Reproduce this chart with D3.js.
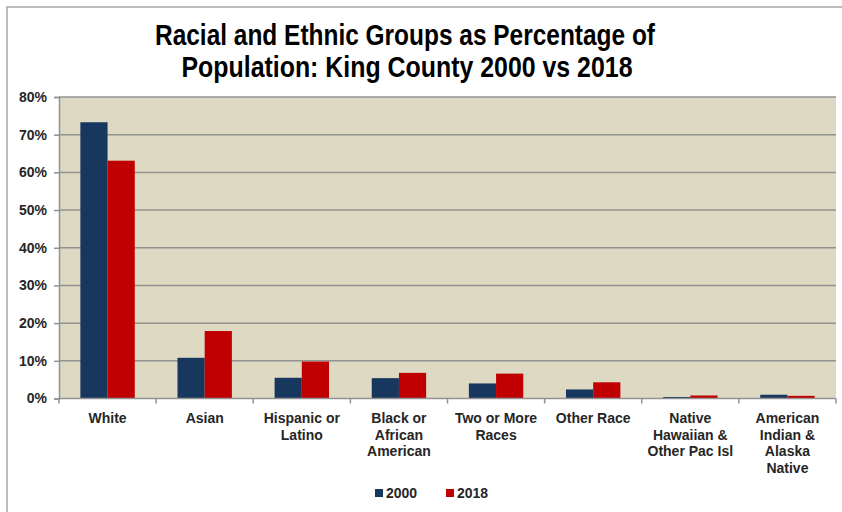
<!DOCTYPE html>
<html><head><meta charset="utf-8">
<script src="https://cdn.jsdelivr.net/npm/d3@7/dist/d3.min.js"></script>
<style>body{margin:0;background:#fff;} svg{display:block;font-family:"Liberation Sans",Arial,sans-serif;}</style>
</head><body>
<svg id="chart" width="842" height="512"></svg>
<script>
const categories = [["White"],["Asian"],["Hispanic or","Latino"],["Black or","African","American"],["Two or More","Races"],["Other Race"],["Native","Hawaiian &","Other Pac Isl"],["American","Indian &","Alaska","Native"]];
const series = ["2000","2018"];
const values2000 = [73.3, 10.8, 5.5, 5.4, 4.0, 2.4, 0.4, 1.0];
const values2018 = [63.1, 17.9, 9.8, 6.8, 6.6, 4.3, 0.8, 0.7];
const yTicks = [0,10,20,30,40,50,60,70,80];
const colors = ["#17375E","#C00000"];

const svg = d3.select("#chart");
const m = {l:59, r:836, t:97, b:398.5};

svg.append("rect").attr("x",7).attr("y",7).attr("width",842).attr("height",600)
  .attr("fill","none").attr("stroke","#a6a6a6").attr("stroke-width",1.5);

const x = d3.scaleBand().domain(d3.range(categories.length)).range([m.l,m.r]).paddingInner(0.44).paddingOuter(0.22);
const xs = d3.scaleBand().domain(series).range([0,x.bandwidth()]);
const y = d3.scaleLinear().domain([0,80]).range([m.b,m.t]);

svg.append("rect").attr("x",m.l).attr("y",m.t).attr("width",m.r-m.l).attr("height",m.b-m.t).attr("fill","#DDD9C3");

svg.append("g").selectAll("line").data(yTicks.filter(d=>d>0)).join("line")
  .attr("x1",m.l).attr("x2",m.r).attr("y1",d=>y(d)).attr("y2",d=>y(d))
  .attr("stroke","#929292").attr("stroke-width",1.5);

const data = categories.map((c,i)=>({i, vals:[values2000[i], values2018[i]]}));
const g = svg.append("g").selectAll("g").data(data).join("g").attr("transform",d=>`translate(${x(d.i)},0)`);
g.selectAll("rect").data(d=>d.vals.map((v,k)=>({v,k}))).join("rect")
  .attr("x",d=>xs(series[d.k])).attr("width",xs.bandwidth())
  .attr("y",d=>y(d.v)).attr("height",d=>y(0)-y(d.v)).attr("fill",d=>colors[d.k]);

// y axis
const yAxis = d3.axisLeft(y).tickValues(yTicks).tickFormat(d=>d+"%").tickSize(5).tickPadding(7);
const ya = svg.append("g").attr("transform",`translate(${m.l},0)`).call(yAxis);
ya.select(".domain").attr("stroke","#929292").attr("stroke-width",1.5);
ya.selectAll(".tick line").attr("stroke","#929292").attr("stroke-width",1.5);
ya.selectAll("text").attr("font-size",14).attr("font-weight","bold").attr("fill","#262626").attr("font-family","Liberation Sans, Arial, sans-serif");

// x axis
svg.append("line").attr("x1",m.l).attr("x2",m.r).attr("y1",m.b).attr("y2",m.b).attr("stroke","#929292").attr("stroke-width",1.5);
const step = x.step();
svg.append("g").selectAll("line").data(d3.range(categories.length+1)).join("line")
  .attr("x1",d=>m.l+d*step).attr("x2",d=>m.l+d*step).attr("y1",m.b).attr("y2",m.b+5)
  .attr("stroke","#929292").attr("stroke-width",1.5);

const labels = svg.append("g").selectAll("text").data(categories).join("text")
  .attr("x",(d,i)=>x(i)+x.bandwidth()/2).attr("y",423)
  .attr("text-anchor","middle").attr("font-size",14).attr("font-weight","bold").attr("fill","#262626");
labels.selectAll("tspan").data(d=>d).join("tspan")
  .attr("x",function(){return this.parentNode.getAttribute("x");})
  .attr("dy",(d,k)=>k===0?0:16.5).text(d=>d);

// title
const title = svg.append("text").attr("x",405).attr("text-anchor","middle").attr("font-size",29).attr("font-weight","bold").attr("fill","#000");
title.append("tspan").attr("x",405).attr("y",45).attr("textLength",500).attr("lengthAdjust","spacingAndGlyphs").text("Racial and Ethnic Groups as Percentage of");
title.append("tspan").attr("x",407).attr("y",77).attr("textLength",451).attr("lengthAdjust","spacingAndGlyphs").text("Population: King County 2000 vs 2018");

// legend
const lx = [375, 446];
const lg = svg.append("g").selectAll("g").data(series).join("g").attr("transform",(d,i)=>`translate(${lx[i]},498)`);
lg.append("rect").attr("x",0).attr("y",-9).attr("width",8).attr("height",8).attr("fill",(d,i)=>colors[i]);
lg.append("text").attr("x",11).attr("y",0).attr("font-size",14).attr("font-weight","bold").attr("fill","#262626").text(d=>d);
</script>
</body></html>
